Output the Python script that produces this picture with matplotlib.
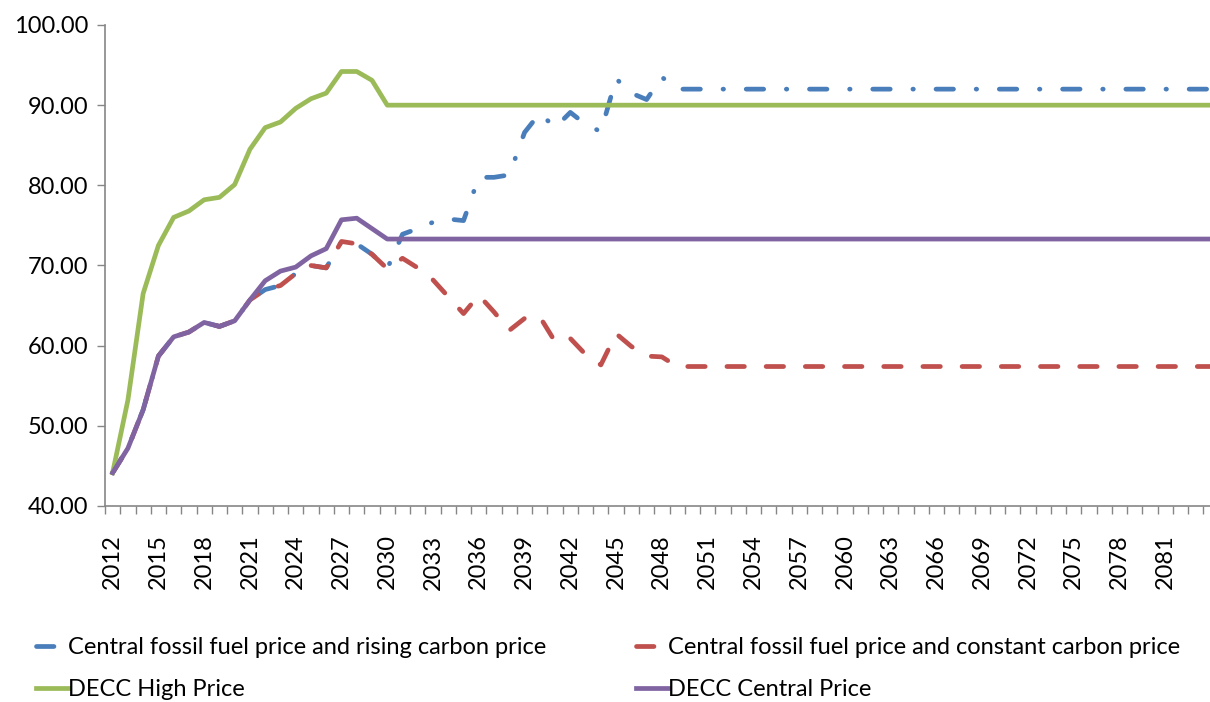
import matplotlib
matplotlib.use("Agg")
import matplotlib.pyplot as plt
from matplotlib.ticker import FixedLocator, FixedFormatter

plt.rcParams['font.family'] = ['Lato', 'DejaVu Sans']

years = list(range(2012, 2086))

# values; flat tails are the constant plateau values
decc_central = [44.15, 47.2, 52.0, 58.7, 61.1, 61.7, 62.9, 62.4, 63.1, 65.7,
                68.1, 69.3, 69.8, 71.2, 72.1, 75.7, 75.9, 74.6] + [73.3] * 56
decc_high = [44.15, 53.2, 66.5, 72.5, 76.0, 76.8, 78.2, 78.5, 80.1, 84.5,
             87.2, 87.9, 89.6, 90.8, 91.5, 94.2, 94.2, 93.1] + [90.0] * 56
constant_carbon = [44.15, 47.2, 52.0, 58.7, 61.1, 61.7, 62.9, 62.4, 63.1, 65.7,
                   67.0, 67.5, 69.0, 70.0, 69.7, 73.0, 72.7, 71.4, 69.6,
                   70.9, 69.7, 68.2, 66.1, 64.0, 66.3, 64.2, 61.9, 63.4, 63.6,
                   60.5, 60.9, 58.9, 57.6, 61.5, 59.9, 58.7, 58.6] + [57.4] * 37
rising_carbon = [44.15, 47.2, 52.0, 58.7, 61.1, 61.7, 62.9, 62.4, 63.1, 65.7,
                 67.0, 67.5, 69.0, 70.0, 69.7, 73.0, 72.7, 71.4, 69.6,
                 73.9, 74.6, 75.4, 75.8, 75.6, 81.0, 81.0, 81.3, 86.6, 89.0,
                 87.2, 89.1, 87.6, 86.7, 93.3, 91.5, 90.7, 93.5] + [92.0] * 37

labels = ["Central fossil fuel price and rising carbon price",
          "Central fossil fuel price and constant carbon price",
          "DECC High Price",
          "DECC Central Price"]

BLUE, RED, GREEN, PURPLE = "#4A7EBB", "#C0504D", "#9BBB59", "#8064A2"
GREY = "#868686"

fig = plt.figure(figsize=(12.10, 7.02), dpi=100)
ax = fig.add_axes([105 / 1210, 1 - 506 / 702, 1129 / 1210, 481 / 702])

x = list(range(len(years)))
lw = 3.4
l_blue, = ax.plot(x, rising_carbon, color=BLUE, lw=lw,
                  ls=(0, (3.7, 4.8, 0.1, 4.8)), dash_capstyle="round",
                  solid_joinstyle="round")
l_red, = ax.plot(x, constant_carbon, color=RED, lw=lw,
                 ls=(0, (3.7, 4.6)), dash_capstyle="round")
l_green, = ax.plot(x, decc_high, color=GREEN, lw=lw)
l_purple, = ax.plot(x, decc_central, color=PURPLE, lw=lw)

ax.set_xlim(-0.5, len(years) - 0.5)
ax.set_ylim(40, 100)
ax.set_yticks(range(40, 101, 10))
ax.set_yticklabels([f"{v:.2f}" for v in range(40, 101, 10)])

major = list(range(0, len(years) - 3, 3))
ax.xaxis.set_major_locator(FixedLocator(major))
ax.xaxis.set_major_formatter(FixedFormatter([str(years[i]) for i in major]))
ax.xaxis.set_minor_locator(FixedLocator([i - 0.5 for i in range(len(years) + 1)]))
ax.tick_params(axis="x", which="major", length=0, pad=20.5, rotation=90,
               labelsize=17)
ax.tick_params(axis="x", which="minor", length=5.8, color=GREY, width=1)
ax.tick_params(axis="y", length=5.8, color=GREY, width=1, pad=6, labelsize=17)

for side in ("top", "right"):
    ax.spines[side].set_visible(False)
for side in ("left", "bottom"):
    ax.spines[side].set_color(GREY)
    ax.spines[side].set_linewidth(1.2)

fig.legend([l_blue, l_green, l_red, l_purple],
           [labels[0], labels[2], labels[1], labels[3]],
           loc="upper left", bbox_to_anchor=(36 / 1210, 1 - 637 / 702),
           ncol=2, frameon=False, fontsize=17, handlelength=1.35,
           handletextpad=0.0, columnspacing=3.8, labelspacing=0.9,
           borderpad=0, borderaxespad=0)

fig.savefig("out.png", dpi=100)
